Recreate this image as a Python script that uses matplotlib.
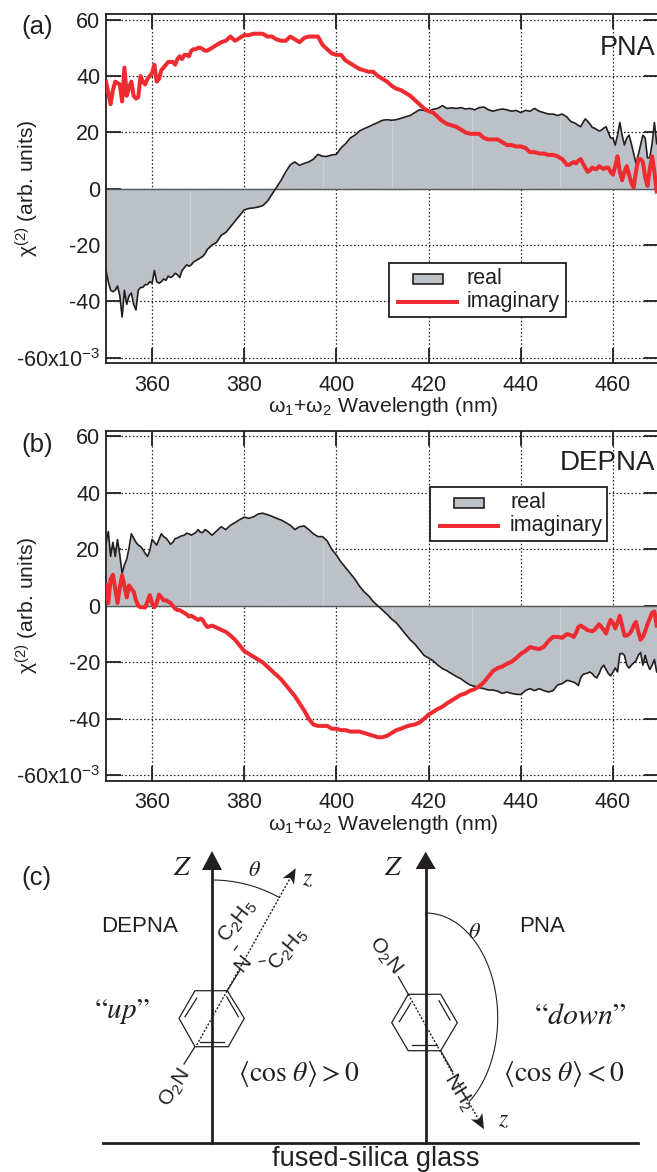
import numpy as np
from matplotlib import pyplot as plt
from matplotlib.patches import Polygon, Rectangle

plt.rcParams['font.family'] = ['Liberation Sans', 'DejaVu Sans']
plt.rcParams['mathtext.fontset'] = 'custom'
plt.rcParams['mathtext.rm'] = 'Liberation Sans'
plt.rcParams['mathtext.it'] = 'Liberation Sans:italic'
plt.rcParams['mathtext.bf'] = 'Liberation Sans:bold'

W, H = 657, 1172
BLACK = '#231f20'
RED = '#ee2b30'
GREY = '#bcc1c7'

# wavelength grid: finer at the two noisy ends
wl = np.concatenate([np.arange(350, 372, 0.5), np.arange(372, 450, 1.0), np.arange(450, 470, 0.5)])

a_real = [-29, -33, -36, -36.5, -36, -34.5, -38, -45.5, -36, -41, -38, -37, -41, -43, -36, -35, -35, -34, -34, -33,
          -33.5, -29, -33, -33.5, -33, -32, -32.5, -31, -31.5, -31, -30, -30.5, -31.5, -29, -28, -27, -27.5, -27, -26, -25.5,
          -25, -24.5, -24, -23,
          -21.5, -20, -19, -16.5, -15.5, -13.5, -11.5, -9.5, -7.5, -7, -6.8, -6.5, -6, -4.5, -2, 0.5, 3, 6, 8.5, 9.5,
          8.3, 9, 9.5, 10.5, 12.2, 11.5, 11.5, 12, 12.2, 14.5, 16, 18, 19, 20.5, 21.3, 22, 22.8, 23.5, 24.3, 24.5,
          24.3, 24.5, 25, 25.5, 26, 27, 28, 27.8, 27.5, 28.2, 28.5, 29.5, 28.5, 28.7, 28.5, 28.8, 28.3, 28.5, 28, 28.8,
          29, 28, 27.5, 28, 28.3, 28, 27.5, 27.8, 27, 27.8, 27.5, 28.5, 27.5, 27, 26.5, 26.5, 26, 26.5,
          25.5, 24.5, 23.7, 23.5, 23, 22.5, 22, 23.5, 24.8, 24, 23, 21.8, 21.5, 21, 20.5, 20.8, 21.5, 22, 20, 18,
          18, 15.5, 19, 23.5, 19, 15.5, 18, 19, 16, 12.5, 9, 12, 15.5, 19, 18, 11, 11, 16, 23.5, 16]
a_imag = [38, 34, 30, 35, 38, 37.5, 37, 31, 43, 33, 36, 38, 33, 32, 32.5, 40, 38, 37, 39, 40,
          41, 44, 38, 39, 42, 43, 44, 45, 45, 45, 44, 46, 47, 46, 47.5, 47.5, 47, 49, 49.5, 49.5,
          50, 50, 49.5, 49,
          49, 50, 51, 52, 52.5, 54, 52.5, 53.5, 54.5, 54.5, 55, 55, 55, 54, 54, 53, 52.5, 52.5, 54, 53,
          52, 53.5, 54, 54, 54, 51, 49.5, 48, 47.5, 47.5, 45.5, 44.5, 43.5, 42.5, 42, 41.5, 41.5, 40, 39, 38,
          36.5, 35.5, 35, 34, 33, 31.5, 30, 28.5, 27.5, 27, 25.5, 24, 23, 22.5, 22, 21, 20, 19.5, 19.5, 19.5,
          18, 17.5, 17.5, 17.5, 16.5, 15.5, 15.5, 15, 15, 14.5, 13, 13, 12.5, 12.5, 12, 12, 11.5, 10.5,
          8.5, 8.5, 9, 9.5, 9, 10, 10.5, 9, 7.5, 6, 6.5, 7.5, 7, 7, 8, 7.5, 7, 7.5, 7.5, 6,
          5, 8, 11.5, 6, 3, 6, 8, 5, 2, 0.5, 6, 10.5, 10.5, 9.5, 4, 1, 7, 11.5, 6, -1]
b_real = [22, 26.3, 17.5, 22.5, 17.5, 23.5, 18, 11.5, 14.5, 16.5, 20.5, 25.5, 24, 22.5, 21.5, 21, 20, 18.6, 17.5, 19.5,
          23.5, 22.5, 21.5, 23.5, 25.5, 24.5, 24, 23, 21.8, 22.5, 23.8, 24, 24.5, 24.8, 25, 25.7, 25.5, 25, 25.5, 26,
          27, 26, 26, 27,
          26.5, 25, 26.5, 28, 27, 28.5, 29.5, 30.5, 31.4, 31, 31.5, 32.5, 32.8, 32.3, 31.7, 31, 30.4, 29.5, 28.5, 27,
          28, 28.3, 27, 25.5, 24.5, 24.5, 23, 20, 18, 15.5, 13.5, 11.5, 9.5, 7, 5, 3.5, 1.5, 0, -1.5, -3,
          -4.7, -6, -8, -10, -12, -13.5, -15.5, -17.5, -18.5, -19.5, -21, -22.2, -23, -24, -25, -25.8, -27, -28, -28.5, -29,
          -29.3, -29.8, -29.8, -30.2, -31, -30.5, -31, -31.3, -31.4, -30, -29.3, -30, -29.3, -30, -30.5, -30, -28, -27.5,
          -26.4, -26.5, -26.8, -27, -27.5, -28.2, -25.5, -24.3, -24, -23.8, -23.4, -24, -25, -25.5, -24, -22, -21, -22.5, -24, -24.8,
          -23.5, -22, -23.4, -17, -16.8, -17.5, -21, -22, -21, -20.2, -19.5, -17.5, -16.5, -21, -17.5, -20.5, -22.5, -21, -19, -23.4]
b_imag = [7.5, 1, 9.5, 11, 6, 1, 6.5, 10.8, 7, 3, 7.2, 6, 5, 2, 0, -0.5, -0.5, -0.6, 1.5, 3.8,
          1, -0.5, 1, 4, 3, 2, 2, 1.5, 1, 0, -1, -1.5, -1.5, -2, -2.5, -3, -3.8, -3.5, -4, -4.5,
          -5, -4.5, -5, -6.5,
          -7.5, -7, -7.7, -8.5, -9.2, -10.5, -12, -14, -16, -17, -18, -19, -20, -21.5, -23, -24.5, -26, -28, -30, -32,
          -34.5, -37, -40, -42, -42.5, -42.5, -42.5, -43.5, -43.5, -44, -44, -44.5, -44.5, -44.5, -45, -45.5, -46, -46.5, -46.5, -46,
          -45, -44, -43.5, -42.8, -42.3, -42, -41.3, -40, -38.5, -37.5, -36.5, -35.7, -34.5, -33.5, -32.5, -31.5, -31, -30, -29.5, -28.5,
          -27, -25, -23, -22, -21.5, -20.5, -19.8, -18.5, -17, -16, -14.6, -15, -15.3, -14.5, -12.5, -11, -11, -11.3,
          -10, -10.2, -10.5, -11, -9.5, -7.5, -7, -7.5, -8, -8.6, -8.8, -9, -8.5, -7.5, -6.5, -7.5, -8.5, -9.8, -7, -5,
          -6, -8, -6, -3.5, -7, -10.5, -10.5, -10, -9, -7, -5.7, -9, -12, -11, -9, -6.5, -4.5, -2.5, -2, -7]

x_ticks = [360, 380, 400, 420, 440, 460]
y_ticks = [-60, -40, -20, 0, 20, 40, 60]
y_labels = ['-60x10$^{-3}$', '-40', '-20', '0', '20', '40', '60']
seams = [368.2, 397.0, 412.1, 429.5, 448.6]

fig = plt.figure(figsize=(W / 100, H / 100), dpi=100)


def panel_axes(top, bottom):
    ax = fig.add_axes([106 / W, 1 - bottom / H, (659 - 106) / W, (bottom - top) / H])
    ax.set_xlim(350, 470)
    ax.set_ylim(-62, 62)
    ax.set_axisbelow(True)
    ax.grid(True, color=BLACK, linestyle=(0, (1.2, 1.8)), linewidth=0.9)
    ax.set_xticks(x_ticks)
    ax.set_yticks(y_ticks)
    ax.set_yticklabels(y_labels)
    ax.tick_params(direction='in', length=11, width=1.3, color=BLACK, top=True, right=True,
                   labelsize=15.5, labelcolor=BLACK)
    ax.tick_params(axis='x', pad=8)
    ax.tick_params(axis='y', pad=4)
    for s in ax.spines.values():
        s.set_linewidth(1.3)
        s.set_color(BLACK)
    return ax


def draw_curves(ax, real, imag):
    ax.fill_between(wl, real, 0, color=GREY, linewidth=0, zorder=2)
    ax.vlines(seams, 0, np.interp(seams, wl, real), color='#cfd2d6', linewidth=0.6, zorder=2.1)
    ax.axhline(0, color='#55585a', linewidth=1, zorder=2.2)
    ax.plot(wl, real, color=BLACK, linewidth=1.2, zorder=3)
    ax.plot(wl, imag, color=RED, linewidth=2.9, zorder=4)


ax_a = panel_axes(14, 363.5)
draw_curves(ax_a, a_real, a_imag)
ax_b = panel_axes(430.7, 781)
draw_curves(ax_b, b_real, b_imag)

# overlay in pixel coordinates for legends, labels and the sketch of panel (c)
ov = fig.add_axes([0, 0, 1, 1], facecolor='none')
ov.set_xlim(0, W)
ov.set_ylim(H, 0)
ov.axis('off')

for y_mid, x_lab_y in [(188.5, 407), (605.5, 825)]:
    ov.text(27, y_mid, 'χ$^{(2)}$ (arb. units)', fontsize=15.2, color=BLACK, rotation=90, ha='center', va='center')
    ov.text(383, x_lab_y, 'ω$_1$+ω$_2$ Wavelength (nm)', fontsize=15.2, color=BLACK, ha='center', va='center')


def legend_box(x0, x1, y0, y1, patch_x, patch_y, line_x, line_y, text_x):
    ov.add_patch(Rectangle((x0, y0), x1 - x0, y1 - y0, fc='white', ec=BLACK, lw=1.3, zorder=5))
    ov.add_patch(Rectangle((patch_x[0], patch_y[0]), patch_x[1] - patch_x[0], patch_y[1] - patch_y[0],
                           fc=GREY, ec=BLACK, lw=1.2, zorder=6))
    ov.plot(line_x, [line_y, line_y], color=RED, lw=2.9, zorder=6, solid_capstyle='butt')
    ov.text(text_x, (patch_y[0] + patch_y[1]) / 2, 'real', fontsize=15.5, color=BLACK, va='center', zorder=6)
    ov.text(text_x, line_y, 'imaginary', fontsize=15.5, color=BLACK, va='center', zorder=6)


legend_box(389, 565.5, 263, 317, (412.5, 443), (274, 284), (396, 459), 301.5, 467)
legend_box(430, 606.5, 486.7, 540.7, (454, 484), (497.7, 507.7), (438, 500), 525.7, 510)

for label, x, y in [('(a)', 21, 27), ('(b)', 21, 445), ('(c)', 21, 878)]:
    ov.text(x, y, label, fontsize=18.5, color=BLACK, va='center')
ov.text(655, 48, 'PNA', fontsize=19.5, color=BLACK, ha='right', va='center')
ov.text(655, 463, 'DEPNA', fontsize=20, color=BLACK, ha='right', va='center')


def seg(p, q, lw=1.0, **kw):
    ov.plot([p[0], q[0]], [p[1], q[1]], color=BLACK, lw=lw, **kw)


def big_arrow(x, tip, base, half):
    seg((x, 1143), (x, base), lw=2.0)
    ov.add_patch(Polygon([(x, tip), (x - half, base), (x + half, base)], fc=BLACK, ec='none'))


def small_arrow(tail, tip):
    d = np.array(tip, float) - np.array(tail, float)
    d = d / np.hypot(*d)
    n = np.array([-d[1], d[0]])
    t = np.array(tip, float)
    seg(tail, t - 8 * d, lw=1.0, linestyle=(0, (1.5, 1.2)))
    ov.add_patch(Polygon([t, t - 15 * d + 6.5 * n, t - 11 * d, t - 15 * d - 6.5 * n], fc=BLACK, ec='none'))


def ring(verts, inner):
    ov.add_patch(Polygon(verts, fc='none', ec=BLACK, lw=0.9))
    for p, q in inner:
        seg(p, q, lw=0.9)


seg((103, 1143), (638, 1143), lw=2.0)
big_arrow(212, 851, 870, 10)
big_arrow(425.7, 851.7, 869, 10)

# DEPNA molecule
small_arrow((196.7, 1045), (295.7, 868.3))
ring([(195, 990.7), (227.3, 990.7), (244.3, 1018.3), (228.3, 1046.7), (195, 1046.7), (179, 1018.3)],
     [((185, 1016.7), (196.7, 998.3)), ((226.7, 996.7), (238.3, 1016.7)), ((200, 1041.7), (224, 1041.7))])
seg((227.3, 990.7), (240, 970), lw=0.9)
seg((195, 1046.7), (184, 1064), lw=0.9)
seg((234.3, 950), (237.3, 946), lw=0.9)
seg((259.3, 961.7), (265, 960.7), lw=0.9)
t = np.linspace(0, np.radians(29), 40)
ov.plot(212 + 138 * np.sin(t), 1018 - 138 * np.cos(t), color=BLACK, lw=0.8)

# PNA molecule
small_arrow((408.3, 994.3), (484, 1129.3))
ring([(408.3, 994.3), (440.7, 994.3), (457.3, 1022.7), (440.7, 1050.7), (408.3, 1050.7), (391.7, 1022.7)],
     [((399.3, 1021.7), (410.7, 1003.3)), ((439, 1000.7), (450, 1020)), ((411.7, 1045), (436.7, 1045))])
seg((408.3, 994.3), (398.3, 976.7), lw=0.9)
seg((440.7, 1050.7), (452.7, 1071.7), lw=0.9)
t = np.linspace(0, 2.485, 60)
ov.plot(425.7 + 72 * np.sin(t), 1018 - 105 * np.cos(t), color=BLACK, lw=0.8)

# molecule labels, rotated along the bonds
for txt, x, y, rot in [('N', 243.3, 963.3, 50), ('O$_2$N', 175, 1088, 57), ('C$_2$H$_5$', 238, 921.5, 52),
                       ('C$_2$H$_5$', 288.3, 949.5, 50), ('O$_2$N', 385, 955, -52), ('NH$_2$', 458.3, 1091.7, -58)]:
    ov.text(x, y, txt, fontsize=15, color=BLACK, rotation=rot, ha='center', va='center', rotation_mode='anchor')

ov.text(140, 926, 'DEPNA', fontsize=16, color=BLACK, ha='center', va='center')
ov.text(542, 926, 'PNA', fontsize=16, color=BLACK, ha='center', va='center')
ov.text(375.5, 1159, 'fused-silica glass', fontsize=19.5, color=BLACK, ha='center', va='center')

for txt, x, y, size in [('$Z$', 182.7, 868, 20), ('$Z$', 393.3, 868, 20), ('$z$', 308, 879, 17), ('$z$', 503.3, 1120, 17),
                        (r'$\theta$', 254, 870, 16), (r'$\theta$', 474, 933, 16),
                        ('$“up”$', 121.7, 1011, 21), ('$“down”$', 580, 1015, 21.5),
                        (r'$\langle\cos\,\theta\rangle > 0$', 298.5, 1074, 20),
                        (r'$\langle\cos\,\theta\rangle < 0$', 564, 1074, 20)]:
    ov.text(x, y, txt, fontsize=size, color=BLACK, ha='center', va='center', math_fontfamily='stix')

fig.savefig('out.png', dpi=100)
